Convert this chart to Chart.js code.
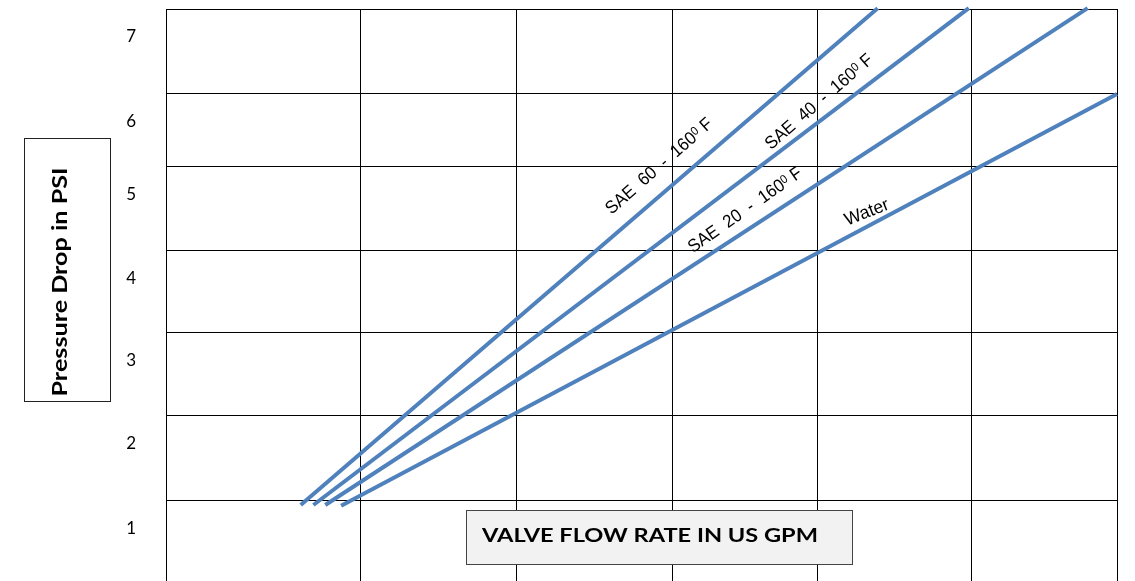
<!DOCTYPE html>
<html>
<head>
<meta charset="utf-8">
<title>Valve pressure drop</title>
<script src="https://cdn.jsdelivr.net/npm/chart.js@4.4.1/dist/chart.umd.min.js"></script>
<style>
    html, body { margin: 0; padding: 0; background: #fff; }
    #wrap { width: 1135px; height: 581px; }
</style>
</head>
<body>
<div id="wrap"><canvas id="chart" width="1135" height="581"></canvas></div>
<script>
// --- DATOS ---
// grid lines of the reference table (not evenly spaced)
const xGridLines = [0, 2.46, 4.42, 6.39, 8.22, 10.17, 12];
const yGridLines = [0, 0.99, 2.02, 3.04, 4.05, 5.07, 5.97, 7];
const yTickLabels = ['', '1', '2', '3', '4', '5', '6', '7'];

// each curve: flow (x) and pressure drop (y), start and end
const sae60Flow = [1.70, 8.98];
const sae60Psi = [0.93, 7.01];
const sae40Flow = [1.86, 10.13];
const sae40Psi = [0.93, 7.01];
const sae20Flow = [2.01, 11.63];
const sae20Psi = [0.93, 7.01];
const waterFlow = [2.21, 12];
const waterPsi = [0.92, 5.96];

const LINE_COLOR = '#4F81BD';

// labels written along the curves
const lineLabels = [
    { dataset: 0, text: 'SAE  60  -  160', sup: '0', tail: ' F', atX: 6.41, offset: 24, tilt: -0.5, length: 136 },
    { dataset: 1, text: 'SAE  40  -  160', sup: '0', tail: ' F', atX: 8.36, offset: 17, tilt: -3.5, length: 136 },
    { dataset: 2, text: 'SAE  20  -  160', sup: '0', tail: ' F', atX: 7.43, offset: 19, tilt: -2, length: 135 },
    { dataset: 3, text: 'Water', sup: '', tail: '', atX: 8.92, offset: 14, tilt: 6.5, length: 46 }
];

const toPoints = (xs, ys) => xs.map((x, i) => ({ x, y: ys[i] }));

function makeDataset(label, xs, ys) {
    return {
        label,
        data: toPoints(xs, ys),
        borderColor: LINE_COLOR,
        borderWidth: 4,
        borderCapStyle: 'butt',
        pointRadius: 0,
        fill: false,
        clip: 4
    };
}

// text drawn to a target width (stretched horizontally)
function drawFitted(ctx, text, x, y, width, font, rotation) {
    ctx.save();
    ctx.translate(x, y);
    ctx.rotate(rotation);
    ctx.font = font;
    const w = ctx.measureText(text).width;
    ctx.scale(width / w, 1);
    ctx.textAlign = 'center';
    ctx.textBaseline = 'alphabetic';
    ctx.fillStyle = '#000';
    ctx.fillText(text, 0, 0);
    ctx.restore();
}

function drawAxisTitles(ctx) {
    // y title box
    ctx.save();
    ctx.fillStyle = '#fff';
    ctx.fillRect(24, 138, 86, 263);
    ctx.strokeStyle = '#222';
    ctx.lineWidth = 1;
    ctx.strokeRect(24.5, 138.5, 86, 263);
    ctx.restore();
    drawFitted(ctx, 'Pressure Drop in PSI', 67, 282, 229, 'bold 21px Lato', -Math.PI / 2);

    // x title box
    ctx.save();
    ctx.fillStyle = '#f2f2f2';
    ctx.fillRect(466, 510, 386, 54);
    ctx.strokeStyle = '#444';
    ctx.lineWidth = 1;
    ctx.strokeRect(466.5, 510.5, 386, 54);
    ctx.restore();
    drawFitted(ctx, 'VALVE FLOW RATE IN US GPM', 650, 542, 336, 'bold 19.5px Lato', 0);
}

function drawLineLabel(ctx, chart, lab) {
    const pts = chart.getDatasetMeta(lab.dataset).data;
    const p0 = pts[0], p1 = pts[pts.length - 1];
    const px = chart.scales.x.getPixelForValue(lab.atX);
    const t = (px - p0.x) / (p1.x - p0.x);
    const py = p0.y + t * (p1.y - p0.y);
    const ang = Math.atan2(p1.y - p0.y, p1.x - p0.x);
    const cx = px + Math.sin(ang) * lab.offset;
    const cy = py - Math.cos(ang) * lab.offset;

    const mainFont = '18px "Liberation Sans", Arial, sans-serif';
    const supFont = '12px "Liberation Sans", Arial, sans-serif';
    ctx.save();
    ctx.translate(cx, cy);
    ctx.rotate(ang + lab.tilt * Math.PI / 180);
    ctx.fillStyle = '#000';
    ctx.textBaseline = 'alphabetic';
    ctx.textAlign = 'left';
    ctx.font = mainFont;
    const w1 = ctx.measureText(lab.text).width;
    const w3 = lab.tail ? ctx.measureText(lab.tail).width : 0;
    ctx.font = supFont;
    const w2 = lab.sup ? ctx.measureText(lab.sup).width : 0;
    const total = w1 + w2 + w3;
    ctx.scale(lab.length / total, 1);
    let x = -total / 2;
    const base = 6.5;
    ctx.font = mainFont;
    ctx.fillText(lab.text, x, base);
    x += w1;
    if (lab.sup) {
        ctx.font = supFont;
        ctx.fillText(lab.sup, x, base - 4.5);
        x += w2;
    }
    if (lab.tail) {
        ctx.font = mainFont;
        ctx.fillText(lab.tail, x, base);
    }
    ctx.restore();
}

const annotationsPlugin = {
    id: 'annotations',
    afterDraw(chart) {
        const ctx = chart.ctx;
        drawAxisTitles(ctx);
        lineLabels.forEach(lab => drawLineLabel(ctx, chart, lab));
    }
};

document.addEventListener('DOMContentLoaded', () => {
    Chart.defaults.font.family = 'Lato';
    const ctx = document.getElementById('chart').getContext('2d');
    new Chart(ctx, {
        type: 'line',
        data: {
            datasets: [
                makeDataset('SAE 60 - 160°F', sae60Flow, sae60Psi),
                makeDataset('SAE 40 - 160°F', sae40Flow, sae40Psi),
                makeDataset('SAE 20 - 160°F', sae20Flow, sae20Psi),
                makeDataset('Water', waterFlow, waterPsi)
            ]
        },
        options: {
            responsive: false,
            animation: false,
            layout: { autoPadding: false, padding: { left: 0, right: 18, top: 9, bottom: 0 } },
            plugins: { legend: { display: false }, tooltip: { enabled: false } },
            scales: {
                x: {
                    type: 'linear',
                    min: 0,
                    max: 12,
                    afterBuildTicks: scale => { scale.ticks = xGridLines.map(v => ({ value: v })); },
                    afterFit: scale => {
                        scale.height = 0;
                        scale.paddingLeft = 0;
                        scale.paddingRight = 0;
                    },
                    ticks: { display: false },
                    grid: { color: '#000', lineWidth: 1, drawTicks: false },
                    border: { display: true, color: '#000', width: 1 }
                },
                y: {
                    type: 'linear',
                    min: 0,
                    max: 7,
                    afterBuildTicks: scale => { scale.ticks = yGridLines.map(v => ({ value: v })); },
                    afterFit: scale => {
                        scale.width = 166;
                        scale.paddingTop = 0;
                        scale.paddingBottom = 0;
                    },
                    ticks: {
                        autoSkip: false,
                        padding: 30,
                        labelOffset: 28,
                        color: '#000',
                        font: { size: 17 },
                        callback: (value, index) => yTickLabels[index]
                    },
                    grid: { color: '#000', lineWidth: 1, drawTicks: false },
                    border: { display: true, color: '#000', width: 1 }
                }
            }
        },
        plugins: [annotationsPlugin]
    });
});
</script>
</body>
</html>
